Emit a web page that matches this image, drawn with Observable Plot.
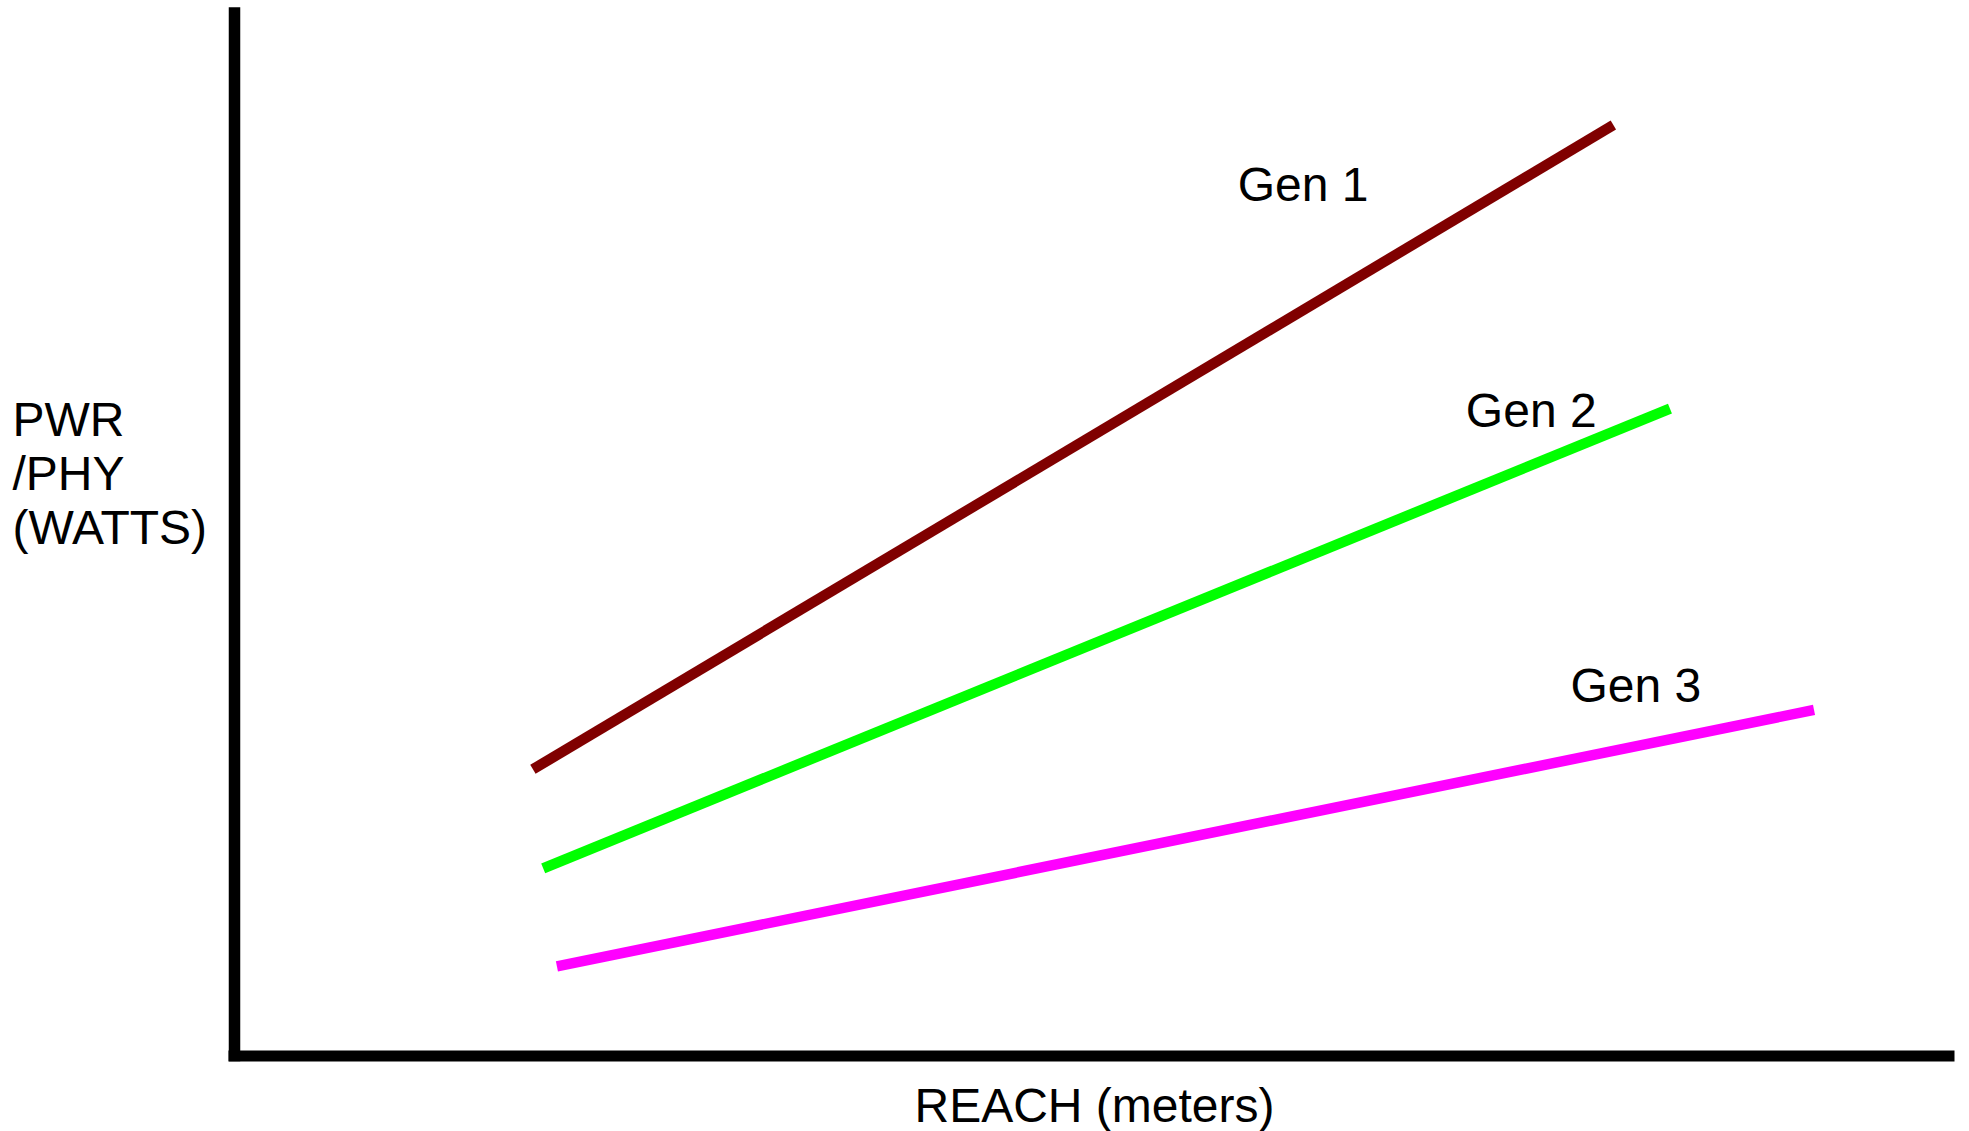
<!DOCTYPE html>
<html>
<head>
<meta charset="utf-8">
<script src="https://cdn.jsdelivr.net/npm/d3@7"></script>
<script src="https://cdn.jsdelivr.net/npm/@observablehq/plot@0.6"></script>
<style>
  html, body { margin: 0; padding: 0; background: #fff; overflow: hidden; }
  svg { display: block; }
</style>
</head>
<body>
<div id="chart"></div>
<script>
// Series (schematic values, arbitrary units 0–100)
const series = ["Gen 1", "Gen 2", "Gen 3"];
const colors = ["#800000", "#00ff00", "#ff00ff"];
const reachStart = [17.4, 18.0, 18.8];
const reachEnd   = [80.4, 83.7, 92.1];
const powerStart = [27.5, 18.0, 8.6];
const powerEnd   = [89.3, 62.1, 33.2];
// Series label anchor positions (data units)
const labelReach = [58.5, 71.8, 77.9];
const labelPower = [82.0, 60.3, 34.0];
// Axis titles
const yTitle = "PWR\n/PHY\n(WATTS)";
const xTitle = "REACH (meters)";

const points = series.flatMap((s, i) => [
  {series: s, reach: reachStart[i], power: powerStart[i]},
  {series: s, reach: reachEnd[i], power: powerEnd[i]}
]);
const labels = series.map((s, i) => ({series: s, reach: labelReach[i], power: labelPower[i]}));

const chart = Plot.plot({
  width: 1969,
  height: 1131,
  marginLeft: 234,
  marginRight: 20,
  marginTop: 13,
  marginBottom: 75.5,
  x: {domain: [0, 100], axis: null},
  y: {domain: [0, 100], axis: null},
  color: {domain: series, range: colors},
  style: {fontFamily: "'Liberation Sans', Arial, Helvetica, sans-serif", background: "white", color: "black"},
  marks: [
    Plot.line(points, {x: "reach", y: "power", z: "series", stroke: "series", strokeWidth: 10.5, strokeLinecap: "butt"}),
    Plot.ruleX([0], {stroke: "black", strokeWidth: 11.5, strokeLinecap: "square"}),
    Plot.ruleY([0], {stroke: "black", strokeWidth: 11, strokeLinecap: "square"}),
    Plot.text(labels, {x: "reach", y: "power", text: "series", textAnchor: "start", lineAnchor: "bottom", fontSize: 48, fill: "black"}),
    Plot.text([yTitle], {frameAnchor: "top-left", dx: -222, dy: 530.3, text: d => d, textAnchor: "start", lineAnchor: "bottom", lineHeight: 1.125, fontSize: 48, fill: "black"}),
    Plot.text([xTitle], {frameAnchor: "bottom", dx: 2.5, dy: 66, text: d => d, lineAnchor: "bottom", fontSize: 48, fill: "black"})
  ]
});
document.getElementById("chart").appendChild(chart);
</script>
</body>
</html>
